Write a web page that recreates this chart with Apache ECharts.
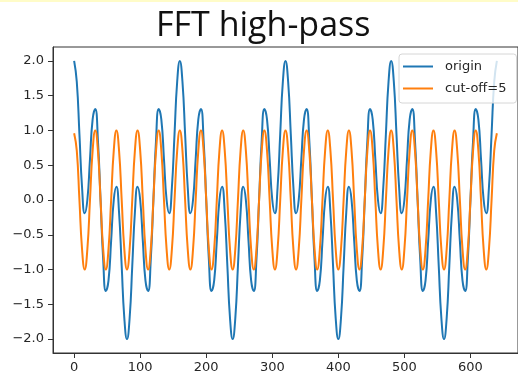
<!DOCTYPE html>
<html>
<head>
<meta charset="utf-8">
<script src="https://cdn.jsdelivr.net/npm/echarts@6/dist/echarts.min.js"></script>
<style>
  html, body { margin: 0; padding: 0; background: #ffffff; }
  #chart { width: 518px; height: 376px; }
</style>
</head>
<body>
<div id="chart"></div>
<script>
// Sample spacing along the x axis (one value every 4 samples)
const sampleStep = 4;

// Original signal: slow wave plus fast wave
const originValues = [
  2.00, 1.70, 0.95, 0.18, -0.19, 0.00, 0.59, 1.16, 1.31, 0.86,
  0.00, -0.86, -1.31, -1.16, -0.59, 0.00, 0.19, -0.18, -0.95, -1.70,
  -2.00, -1.70, -0.95, -0.18, 0.19, 0.00, -0.59, -1.16, -1.31, -0.86,
  0.00, 0.86, 1.31, 1.16, 0.59, 0.00, -0.19, 0.18, 0.95, 1.70,
  2.00, 1.70, 0.95, 0.18, -0.19, 0.00, 0.59, 1.16, 1.31, 0.86,
  0.00, -0.86, -1.31, -1.16, -0.59, 0.00, 0.19, -0.18, -0.95, -1.70,
  -2.00, -1.70, -0.95, -0.18, 0.19, 0.00, -0.59, -1.16, -1.31, -0.86,
  0.00, 0.86, 1.31, 1.16, 0.59, 0.00, -0.19, 0.18, 0.95, 1.70,
  2.00, 1.70, 0.95, 0.18, -0.19, 0.00, 0.59, 1.16, 1.31, 0.86,
  0.00, -0.86, -1.31, -1.16, -0.59, 0.00, 0.19, -0.18, -0.95, -1.70,
  -2.00, -1.70, -0.95, -0.18, 0.19, 0.00, -0.59, -1.16, -1.31, -0.86,
  0.00, 0.86, 1.31, 1.16, 0.59, 0.00, -0.19, 0.18, 0.95, 1.70,
  2.00, 1.70, 0.95, 0.18, -0.19, 0.00, 0.59, 1.16, 1.31, 0.86,
  0.00, -0.86, -1.31, -1.16, -0.59, 0.00, 0.19, -0.18, -0.95, -1.70,
  -2.00, -1.70, -0.95, -0.18, 0.19, 0.00, -0.59, -1.16, -1.31, -0.86,
  0.00, 0.86, 1.31, 1.16, 0.59, 0.00, -0.19, 0.18, 0.95, 1.70,
  2.00
];

// High-pass result (cut-off = 5): only the fast wave remains
const highPassValues = [
  0.96, 0.71, 0.00, -0.71, -1.00, -0.71, 0.00, 0.71,
  1.00, 0.71, 0.00, -0.71, -1.00, -0.71, 0.00, 0.71,
  1.00, 0.71, 0.00, -0.71, -1.00, -0.71, 0.00, 0.71,
  1.00, 0.71, 0.00, -0.71, -1.00, -0.71, 0.00, 0.71,
  1.00, 0.71, 0.00, -0.71, -1.00, -0.71, 0.00, 0.71,
  1.00, 0.71, 0.00, -0.71, -1.00, -0.71, 0.00, 0.71,
  1.00, 0.71, 0.00, -0.71, -1.00, -0.71, 0.00, 0.71,
  1.00, 0.71, 0.00, -0.71, -1.00, -0.71, 0.00, 0.71,
  1.00, 0.71, 0.00, -0.71, -1.00, -0.71, 0.00, 0.71,
  1.00, 0.71, 0.00, -0.71, -1.00, -0.71, 0.00, 0.71,
  1.00, 0.71, 0.00, -0.71, -1.00, -0.71, 0.00, 0.71,
  1.00, 0.71, 0.00, -0.71, -1.00, -0.71, 0.00, 0.71,
  1.00, 0.71, 0.00, -0.71, -1.00, -0.71, 0.00, 0.71,
  1.00, 0.71, 0.00, -0.71, -1.00, -0.71, 0.00, 0.71,
  1.00, 0.71, 0.00, -0.71, -1.00, -0.71, 0.00, 0.71,
  1.00, 0.71, 0.00, -0.71, -1.00, -0.71, 0.00, 0.71,
  1.00, 0.71, 0.00, -0.71, -1.00, -0.71, 0.00, 0.71,
  1.00, 0.71, 0.00, -0.71, -1.00, -0.71, 0.00, 0.71,
  1.00, 0.71, 0.00, -0.71, -1.00, -0.71, 0.00, 0.71,
  1.00, 0.71, 0.00, -0.71, -1.00, -0.71, 0.00, 0.71,
  0.96
];

const seriesNames = ['origin', 'cut-off=5'];
const xTicks = [0, 100, 200, 300, 400, 500, 600];
const yTicks = [-2.0, -1.5, -1.0, -0.5, 0.0, 0.5, 1.0, 1.5, 2.0];

const toPoints = vals => vals.map((v, i) => [i * sampleStep, v]);

const tickFont = { fontFamily: 'DejaVu Sans', fontSize: 13, color: '#262626' };

const chart = echarts.init(document.getElementById('chart'), null, { renderer: 'canvas' });
chart.setOption({
  animation: false,
  backgroundColor: '#ffffff',
  graphic: [{
    type: 'rect',
    shape: { x: 0, y: 0, width: 518, height: 2 },
    style: { fill: '#fffcc8' },
    silent: true
  }],
  title: {
    text: 'FFT high-pass',
    left: 156,
    top: 9,
    padding: 0,
    textStyle: { fontFamily: 'Open Sans', fontWeight: 'normal', fontSize: 34, color: '#111' }
  },
  grid: {
    left: 53, top: 47, width: 470, height: 306,
    show: true, borderColor: '#333', borderWidth: 1, backgroundColor: '#ffffff'
  },
  legend: {
    orient: 'vertical',
    left: 399, top: 54,
    padding: [6, 10, 8, 4],
    itemGap: 9,
    itemWidth: 30, itemHeight: 2,
    icon: 'rect',
    borderColor: '#d6d6d6', borderWidth: 1, borderRadius: 3,
    backgroundColor: 'rgba(255,255,255,0.8)',
    textStyle: { fontFamily: 'DejaVu Sans', fontSize: 13, color: '#262626', padding: [0, 0, 0, 7] },
    data: seriesNames
  },
  xAxis: {
    type: 'value',
    min: -32, max: 672,
    axisLine: { show: true, onZero: false, lineStyle: { color: '#333', width: 1 } },
    axisTick: { show: true, length: 5, lineStyle: { color: '#333' }, customValues: xTicks },
    axisLabel: { ...tickFont, margin: 8, customValues: xTicks, formatter: v => String(v) },
    splitLine: { show: false }
  },
  yAxis: {
    type: 'value',
    min: -2.2, max: 2.2,
    axisLine: { show: true, onZero: false, lineStyle: { color: '#333', width: 1 } },
    axisTick: { show: true, length: 5, lineStyle: { color: '#333' }, customValues: yTicks },
    axisLabel: { ...tickFont, margin: 9, customValues: yTicks,
      formatter: v => v.toFixed(1).replace('-', '\u2212') },
    splitLine: { show: false }
  },
  series: [
    {
      name: seriesNames[0], type: 'line', data: toPoints(originValues),
      smooth: 0.5, showSymbol: false,
      lineStyle: { color: '#1f77b4', width: 2 }, itemStyle: { color: '#1f77b4' }
    },
    {
      name: seriesNames[1], type: 'line', data: toPoints(highPassValues),
      smooth: 0.5, showSymbol: false,
      lineStyle: { color: '#ff7f0e', width: 2 }, itemStyle: { color: '#ff7f0e' }
    }
  ]
});
</script>
</body>
</html>
